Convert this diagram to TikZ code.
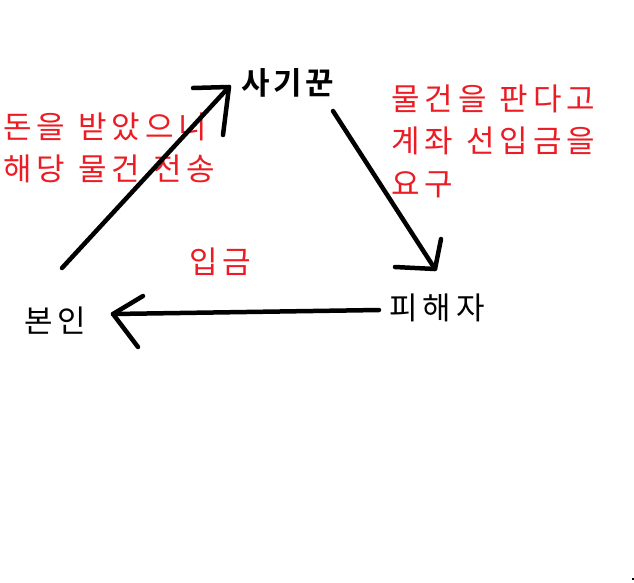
\documentclass[tikz,border=0pt]{standalone}
\usepackage{fontspec}
\newfontfamily\kr[LetterSpace=16]{Noto Sans CJK KR}
\newfontfamily\krb[LetterSpace=12]{Noto Sans CJK KR Bold}
\newcommand{\gap}{\hspace{13pt}}
\definecolor{redtxt}{RGB}{237,28,36}
\begin{document}
\begin{tikzpicture}[x=1pt,y=-1pt,
  lbl/.style={inner sep=0pt,font=\kr\fontsize{31}{42.5}\selectfont},
  redlbl/.style={lbl,text=redtxt},
  stroke/.style={line width=4.5pt,line cap=round,line join=round,black}]
\useasboundingbox (0,0) rectangle (634,582);
\fill[white] (0,0) rectangle (634,582);
% texts
\node[inner sep=0pt,font=\krb\fontsize{31}{36}\selectfont] (sagi) at (288,83) {사기꾼};
\node[lbl] (bonin) at (55,321) {본인};
\node[lbl] (pihae) at (437,308) {피해자};
\node[redlbl] (ipgeum) at (220,262) {입금};
\node[redlbl,anchor=west,align=left] (lefttxt) at (3,148) {돈을\gap 받았으니\\해당\gap 물건\gap 전송};
\node[redlbl,anchor=west,align=left] (righttxt) at (391,141) {물건을\gap 판다고\\계좌\gap 선입금을\\요구};
% arrow 1: bonin -> sagi
\coordinate (a1s) at (62,268);
\coordinate (a1t) at (229,87);
\coordinate (a1h1) at (193,88);
\coordinate (a1h2) at (223,135);
\draw[stroke] (a1s) -- (a1t);
\draw[stroke] (a1h1) -- (a1t) -- (a1h2);
% arrow 2: sagi -> pihae
\coordinate (a2s) at (333,111);
\coordinate (a2t) at (435,269);
\coordinate (a2h1) at (395,267);
\coordinate (a2h2) at (441,239);
\draw[stroke] (a2s) -- (a2t);
\draw[stroke] (a2h1) -- (a2t) -- (a2h2);
% arrow 3: pihae -> bonin
\coordinate (a3s) at (379,310);
\coordinate (a3t) at (113,314);
\coordinate (a3h1) at (143,296);
\coordinate (a3h2) at (138,347);
\draw[stroke] (a3s) -- (a3t);
\draw[stroke] (a3h1) -- (a3t) -- (a3h2);
% tiny dot
\fill[black] (631.5,577.5) rectangle (633.5,579.5);
\end{tikzpicture}
\end{document}
